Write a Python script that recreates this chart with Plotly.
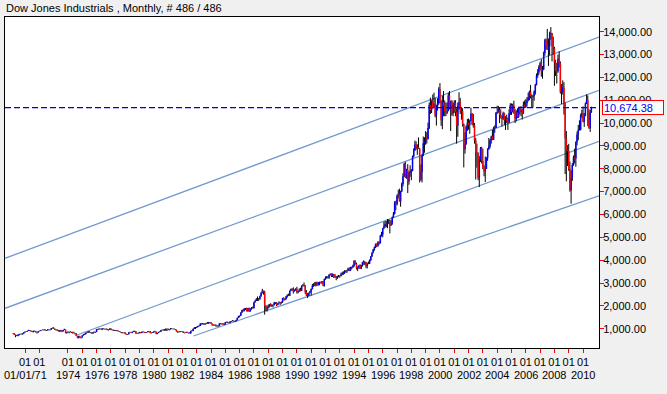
import plotly.graph_objects as go

TITLE = "Dow Jones Industrials , Monthly, # 486 / 486"
FIRST_YEAR, FIRST_MONTH = 1970, 3

# Monthly OHLC, Mar 1970 .. Aug 2010 (one row per year)
opens = [
    778, 786, 736, 700, 684, 734, 765, 761, 756, 794,
    839, 869, 879, 904, 942, 908, 891, 858, 898, 887, 839, 831,
    890, 902, 928, 941, 954, 961, 929, 925, 964, 953, 956, 1018,
    1020, 999, 955, 951, 921, 901, 892, 926, 888, 947, 957, 822,
    851, 856, 861, 847, 837, 802, 802, 757, 679, 608, 666, 619,
    616, 704, 739, 768, 821, 832, 879, 832, 835, 794, 836, 861,
    852, 975, 973, 999, 997, 975, 1003, 985, 974, 990, 965, 947,
    1005, 954, 936, 919, 927, 899, 916, 890, 861, 847, 818, 830,
    831, 770, 742, 757, 837, 841, 819, 862, 877, 866, 792, 799,
    805, 839, 809, 862, 855, 822, 842, 846, 888, 879, 816, 822,
    839, 876, 863, 786, 817, 851, 868, 935, 933, 932, 924, 993,
    964, 947, 975, 1004, 998, 992, 977, 952, 881, 850, 853, 889,
    875, 871, 824, 823, 848, 820, 812, 809, 901, 896, 992, 1039,
    1047, 1076, 1113, 1130, 1226, 1200, 1222, 1199, 1216, 1233, 1225, 1276,
    1259, 1221, 1155, 1165, 1171, 1105, 1132, 1115, 1224, 1207, 1207, 1189,
    1212, 1287, 1284, 1267, 1258, 1315, 1335, 1347, 1334, 1329, 1374, 1472,
    1547, 1571, 1709, 1819, 1784, 1877, 1893, 1775, 1898, 1768, 1878, 1914,
    1896, 2158, 2224, 2305, 2286, 2292, 2419, 2572, 2663, 2596, 1994, 1834,
    1939, 1958, 2072, 1988, 2032, 2031, 2142, 2129, 2032, 2113, 2149, 2115,
    2169, 2342, 2258, 2294, 2419, 2480, 2440, 2661, 2737, 2693, 2645, 2706,
    2753, 2591, 2627, 2707, 2657, 2877, 2881, 2905, 2614, 2452, 2442, 2560,
    2634, 2736, 2882, 2914, 2888, 3028, 2907, 3025, 3044, 3017, 3069, 2895,
    3169, 3223, 3268, 3235, 3359, 3397, 3319, 3394, 3257, 3272, 3226, 3305,
    3301, 3310, 3371, 3435, 3428, 3527, 3516, 3539, 3651, 3555, 3681, 3684,
    3754, 3978, 3832, 3636, 3682, 3758, 3625, 3765, 3913, 3843, 3908, 3739,
    3834, 3844, 4011, 4158, 4321, 4465, 4556, 4708, 4611, 4789, 4755, 5074,
    5117, 5395, 5486, 5587, 5569, 5643, 5655, 5529, 5616, 5882, 6029, 6522,
    6448, 6813, 6878, 6583, 7009, 7331, 7673, 8223, 7622, 7945, 7442, 7823,
    7908, 7907, 8546, 8800, 9063, 8900, 8952, 8883, 7539, 7843, 8592, 9117,
    9181, 9359, 9307, 9786, 10789, 10560, 10971, 10655, 10829, 10337, 10730, 10878,
    11497, 10941, 10128, 10922, 10734, 10522, 10448, 10522, 11215, 10651, 10971, 10414,
    10788, 10887, 10495, 9879, 10735, 10912, 10502, 10523, 9950, 8848, 9075, 9852,
    10022, 9920, 10106, 10404, 9946, 9925, 9243, 8737, 8664, 7592, 8397, 8896,
    8342, 8054, 7891, 7992, 8480, 8850, 8985, 9234, 9416, 9275, 9801, 9782,
    10454, 10488, 10584, 10358, 10226, 10188, 10435, 10140, 10174, 10080, 10027, 10428,
    10783, 10490, 10766, 10504, 10193, 10467, 10275, 10641, 10482, 10569, 10440, 10806,
    10718, 10865, 10993, 11109, 11367, 11168, 11150, 11186, 11381, 11679, 12081, 12222,
    12463, 12622, 12269, 12354, 13063, 13628, 13409, 13212, 13358, 13896, 13930, 13372,
    13265, 12650, 12266, 12263, 12820, 12638, 11350, 11378, 11544, 10851, 9325, 8829,
    8776, 8001, 7063, 7609, 8168, 8500, 8447, 9172, 9496, 9712, 9713, 10345,
    10428, 10067, 10325, 10857, 11009, 10137, 9774, 10466,
]

highs = [
    800, 797, 743, 728, 743, 776, 785, 786, 800, 848,
    877, 892, 912, 951, 945, 920, 906, 915, 920, 906, 850, 895,
    917, 933, 950, 968, 976, 965, 942, 980, 970, 965, 1026, 1052,
    1067, 1005, 983, 965, 947, 935, 945, 930, 960, 997, 963, 860,
    892, 870, 895, 865, 865, 865, 815, 800, 690, 690, 690, 630,
    712, 765, 790, 825, 858, 885, 890, 845, 845, 855, 870, 865,
    985, 995, 1011, 1012, 1010, 1015, 1015, 995, 1020, 992, 970, 1010,
    1015, 960, 970, 945, 945, 925, 925, 895, 875, 855, 850, 835,
    838, 785, 768, 850, 870, 850, 870, 910, 910, 901, 820, 830,
    860, 845, 870, 880, 865, 853, 855, 895, 900, 900, 835, 855,
    895, 910, 870, 825, 863, 890, 945, 965, 975, 980, 1010, 1000,
    1010, 980, 1025, 1030, 1005, 1015, 985, 960, 885, 880, 895, 900,
    885, 875, 835, 865, 870, 830, 845, 910, 945, 1010, 1070, 1075,
    1095, 1125, 1150, 1230, 1240, 1250, 1245, 1225, 1260, 1290, 1295, 1290,
    1295, 1230, 1185, 1185, 1185, 1145, 1140, 1245, 1245, 1235, 1250, 1225,
    1295, 1310, 1310, 1290, 1325, 1340, 1375, 1355, 1345, 1385, 1480, 1560,
    1575, 1720, 1830, 1870, 1895, 1905, 1920, 1910, 1925, 1890, 1950, 1965,
    2175, 2250, 2340, 2410, 2345, 2445, 2590, 2746, 2665, 2660, 2030, 2015,
    2055, 2085, 2115, 2070, 2065, 2175, 2165, 2160, 2130, 2200, 2160, 2190,
    2350, 2375, 2330, 2425, 2500, 2535, 2670, 2755, 2775, 2810, 2720, 2770,
    2835, 2665, 2765, 2790, 2900, 2950, 3025, 2915, 2690, 2560, 2580, 2660,
    2760, 2960, 2990, 3040, 3050, 3060, 3040, 3060, 3060, 3090, 3080, 3190,
    3290, 3300, 3300, 3380, 3420, 3425, 3420, 3400, 3390, 3300, 3320, 3355,
    3340, 3450, 3490, 3510, 3560, 3560, 3580, 3670, 3680, 3710, 3720, 3800,
    3990, 3990, 3890, 3730, 3790, 3820, 3790, 3930, 3990, 3960, 3920, 3890,
    3940, 4030, 4180, 4340, 4490, 4600, 4730, 4740, 4830, 4830, 5110, 5240,
    5410, 5680, 5720, 5710, 5800, 5780, 5770, 5750, 5910, 6110, 6580, 6600,
    6880, 7080, 7130, 7040, 7400, 7800, 8260, 8300, 8000, 8200, 7870, 8150,
    7990, 8580, 8900, 9230, 9200, 9070, 9370, 8900, 8190, 8650, 9410, 9380,
    9650, 9600, 10020, 10900, 11110, 11000, 11250, 11330, 11110, 10800, 11090, 11570,
    11750, 11000, 11200, 11400, 10990, 10900, 10900, 11330, 11400, 10980, 11000, 10900,
    11000, 11000, 10650, 10900, 11350, 11100, 10700, 10650, 9980, 9600, 9900, 10180,
    10200, 10150, 10670, 10440, 10400, 10000, 9350, 9100, 8720, 8550, 8950, 8960,
    8880, 8150, 8540, 8500, 8900, 9350, 9300, 9450, 9700, 9840, 9900, 10480,
    10760, 10750, 10700, 10600, 10330, 10500, 10460, 10300, 10370, 10240, 10600, 10870,
    10860, 10850, 10980, 10620, 10560, 10650, 10720, 10720, 10740, 10610, 10940, 10990,
    11050, 11140, 11330, 11420, 11670, 11260, 11230, 11430, 11720, 12170, 12360, 12530,
    12690, 12800, 12500, 13130, 13690, 13700, 14120, 13700, 14000, 14200, 13950, 13780,
    13340, 12770, 12630, 13000, 13140, 12700, 11710, 11870, 11790, 10900, 9650, 9030,
    9090, 8320, 7930, 8250, 8580, 8880, 9200, 9630, 9920, 10120, 10410, 10580,
    10730, 10440, 10900, 11260, 11210, 10600, 10580, 10720,
]

lows = [
    763, 724, 627, 676, 667, 700, 740, 747, 740, 786,
    830, 862, 872, 900, 900, 870, 850, 836, 877, 835, 790, 830,
    884, 895, 922, 935, 920, 922, 905, 920, 934, 922, 950, 1000,
    990, 942, 920, 910, 875, 860, 870, 850, 880, 940, 800, 783,
    820, 795, 840, 815, 790, 795, 750, 674, 585, 573, 605, 570,
    610, 700, 735, 750, 815, 820, 825, 805, 785, 785, 830, 820,
    850, 948, 958, 965, 960, 950, 975, 955, 970, 930, 920, 945,
    950, 925, 910, 905, 895, 890, 885, 855, 835, 802, 800, 795,
    760, 738, 735, 750, 830, 810, 805, 860, 855, 780, 780, 780,
    800, 800, 806, 845, 818, 820, 820, 842, 860, 800, 790, 818,
    820, 855, 755, 758, 805, 845, 865, 915, 915, 910, 920, 895,
    935, 925, 965, 990, 965, 975, 935, 870, 820, 835, 845, 865,
    835, 815, 790, 820, 815, 785, 795, 770, 890, 890, 985, 985,
    1030, 1065, 1095, 1115, 1180, 1185, 1175, 1160, 1200, 1215, 1215, 1245,
    1215, 1130, 1135, 1135, 1100, 1095, 1080, 1110, 1190, 1180, 1180, 1160,
    1180, 1265, 1245, 1245, 1240, 1295, 1325, 1310, 1295, 1315, 1370, 1460,
    1500, 1565, 1690, 1745, 1760, 1820, 1745, 1740, 1740, 1745, 1830, 1880,
    1890, 2140, 2210, 2215, 2215, 2275, 2400, 2545, 2490, 1616, 1780, 1750,
    1880, 1930, 1975, 1955, 1935, 2025, 2080, 1990, 2020, 2100, 2040, 2100,
    2130, 2240, 2235, 2285, 2365, 2425, 2430, 2640, 2655, 2540, 2620, 2660,
    2540, 2545, 2620, 2630, 2650, 2840, 2850, 2520, 2430, 2340, 2420, 2560,
    2450, 2720, 2830, 2860, 2850, 2880, 2890, 2900, 2980, 2960, 2860, 2840,
    3140, 3190, 3200, 3180, 3330, 3260, 3260, 3220, 3240, 3120, 3180, 3250,
    3230, 3290, 3340, 3360, 3400, 3460, 3440, 3520, 3520, 3530, 3600, 3650,
    3710, 3810, 3590, 3520, 3630, 3610, 3620, 3720, 3800, 3780, 3650, 3640,
    3820, 3840, 3960, 4140, 4300, 4410, 4530, 4570, 4600, 4680, 4720, 5030,
    5000, 5360, 5420, 5440, 5400, 5580, 5170, 5500, 5550, 5860, 6000, 6180,
    6400, 6700, 6560, 6340, 6990, 7230, 7640, 7600, 7560, 6940, 7300, 7650,
    7500, 7890, 8500, 8780, 8840, 8610, 8870, 7400, 7470, 7400, 8550, 8700,
    9050, 9100, 9280, 9740, 10400, 10440, 10640, 10650, 10250, 9890, 10550, 10800,
    10860, 9880, 9730, 10300, 10300, 10300, 10400, 10520, 10600, 9650, 10330, 10300,
    10450, 10300, 9100, 9400, 10600, 10400, 10150, 9850, 8060, 8660, 9050, 9660,
    9710, 9530, 10090, 9900, 9800, 9100, 7530, 8050, 7500, 7200, 8300, 8230,
    7980, 7670, 7420, 7990, 8350, 8830, 8900, 9100, 9250, 9260, 9580, 9780,
    10400, 10450, 10000, 10200, 9850, 10140, 9920, 9700, 10000, 9700, 10000, 10350,
    10360, 10460, 10400, 10000, 10080, 10220, 10230, 10380, 10300, 10160, 10400, 10650,
    10660, 10720, 10950, 11000, 11080, 10700, 10680, 10980, 11250, 11650, 11980, 12120,
    12330, 12030, 11940, 12330, 12950, 13220, 13200, 12500, 12960, 13650, 12700, 13000,
    11630, 12060, 11730, 12200, 12430, 11290, 10830, 11250, 10370, 7770, 7450, 8120,
    7910, 7000, 6470, 7470, 8130, 8230, 8090, 9030, 9250, 9670, 9680, 10230,
    10030, 9830, 10300, 10840, 9870, 9750, 9610, 10450,
]

closes = [
    786, 736, 700, 684, 734, 765, 761, 756, 794, 839,
    869, 879, 904, 942, 908, 891, 858, 898, 887, 839, 831, 890,
    902, 928, 941, 954, 961, 929, 925, 964, 953, 956, 1018, 1020,
    999, 955, 951, 921, 901, 892, 926, 888, 947, 957, 822, 851,
    856, 861, 847, 837, 802, 802, 757, 679, 608, 666, 619, 616,
    704, 739, 768, 821, 832, 879, 832, 835, 794, 836, 861, 852,
    975, 973, 999, 997, 975, 1003, 985, 974, 990, 965, 947, 1005,
    954, 936, 919, 927, 899, 916, 890, 861, 847, 818, 830, 831,
    770, 742, 757, 837, 841, 819, 862, 877, 866, 792, 799, 805,
    839, 809, 862, 855, 822, 842, 846, 888, 879, 816, 822, 839,
    876, 863, 786, 817, 851, 868, 935, 933, 932, 924, 993, 964,
    947, 975, 1004, 998, 992, 977, 952, 881, 850, 853, 889, 875,
    871, 824, 823, 848, 820, 812, 809, 901, 896, 992, 1039, 1047,
    1076, 1113, 1130, 1226, 1200, 1222, 1199, 1216, 1233, 1225, 1276, 1259,
    1221, 1155, 1165, 1171, 1105, 1132, 1115, 1224, 1207, 1207, 1189, 1212,
    1287, 1284, 1267, 1258, 1315, 1335, 1347, 1334, 1329, 1374, 1472, 1547,
    1571, 1709, 1819, 1784, 1877, 1893, 1775, 1898, 1768, 1878, 1914, 1896,
    2158, 2224, 2305, 2286, 2292, 2419, 2572, 2663, 2596, 1994, 1834, 1939,
    1958, 2072, 1988, 2032, 2031, 2142, 2129, 2032, 2113, 2149, 2115, 2169,
    2342, 2258, 2294, 2419, 2480, 2440, 2661, 2737, 2693, 2645, 2706, 2753,
    2591, 2627, 2707, 2657, 2877, 2881, 2905, 2614, 2452, 2442, 2560, 2634,
    2736, 2882, 2914, 2888, 3028, 2907, 3025, 3044, 3017, 3069, 2895, 3169,
    3223, 3268, 3235, 3359, 3397, 3319, 3394, 3257, 3272, 3226, 3305, 3301,
    3310, 3371, 3435, 3428, 3527, 3516, 3539, 3651, 3555, 3681, 3684, 3754,
    3978, 3832, 3636, 3682, 3758, 3625, 3765, 3913, 3843, 3908, 3739, 3834,
    3844, 4011, 4158, 4321, 4465, 4556, 4708, 4611, 4789, 4755, 5074, 5117,
    5395, 5486, 5587, 5569, 5643, 5655, 5529, 5616, 5882, 6029, 6522, 6448,
    6813, 6878, 6583, 7009, 7331, 7673, 8223, 7622, 7945, 7442, 7823, 7908,
    7907, 8546, 8800, 9063, 8900, 8952, 8883, 7539, 7843, 8592, 9117, 9181,
    9359, 9307, 9786, 10789, 10560, 10971, 10655, 10829, 10337, 10730, 10878, 11497,
    10941, 10128, 10922, 10734, 10522, 10448, 10522, 11215, 10651, 10971, 10414, 10788,
    10887, 10495, 9879, 10735, 10912, 10502, 10523, 9950, 8848, 9075, 9852, 10022,
    9920, 10106, 10404, 9946, 9925, 9243, 8737, 8664, 7592, 8397, 8896, 8342,
    8054, 7891, 7992, 8480, 8850, 8985, 9234, 9416, 9275, 9801, 9782, 10454,
    10488, 10584, 10358, 10226, 10188, 10435, 10140, 10174, 10080, 10027, 10428, 10783,
    10490, 10766, 10504, 10193, 10467, 10275, 10641, 10482, 10569, 10440, 10806, 10718,
    10865, 10993, 11109, 11367, 11168, 11150, 11186, 11381, 11679, 12081, 12222, 12463,
    12622, 12269, 12354, 13063, 13628, 13409, 13212, 13358, 13896, 13930, 13372, 13265,
    12650, 12266, 12263, 12820, 12638, 11350, 11378, 11544, 10851, 9325, 8829, 8776,
    8001, 7063, 7609, 8168, 8500, 8447, 9172, 9496, 9712, 9713, 10345, 10428,
    10067, 10325, 10857, 11009, 10137, 9774, 10466, 10674.38,
]

# Axis tick labels
tick_years = [1971, 1972] + list(range(1974, 2011))
year_label_years = [1971] + list(range(1974, 2011, 2))
year_label_text = ["01/01/71"] + [str(y) for y in range(1974, 2011, 2)]
price_ticks = [1000, 2000, 3000, 4000, 5000, 6000, 7000, 8000, 9000,
               10000, 11000, 12000, 13000, 14000]

# Trend channel lines (bar index, price) endpoints
trend_x0 = [-6.8, -6.8, 53.6, 151.2]
trend_y0 = [4081, 1893, 724, 680]
trend_x1 = [491.4, 491.4, 491.4, 491.4]
trend_y1 = [13768, 11435, 9198, 6817]

X_RANGE = [-6.8, 491.4]
Y_RANGE = [155, 14643]

FONT = "Liberation Sans, Arial, sans-serif"


def month_index(year, month):
    return (year - FIRST_YEAR) * 12 + (month - FIRST_MONTH)


n = len(closes)
wick_x, wick_y = [], []
up_x, up_y, dn_x, dn_y = [], [], [], []
for i in range(n):
    wick_x += [i, i, None]
    wick_y += [lows[i], highs[i], None]
    if closes[i] >= opens[i]:
        up_x += [i, i, None]
        up_y += [opens[i], closes[i], None]
    else:
        dn_x += [i, i, None]
        dn_y += [opens[i], closes[i], None]

fig = go.Figure()

for x0, y0, x1, y1 in zip(trend_x0, trend_y0, trend_x1, trend_y1):
    fig.add_trace(go.Scatter(x=[x0, x1], y=[y0, y1], mode="lines",
                             line=dict(color="#7499CF", width=1.3),
                             hoverinfo="skip", showlegend=False))

fig.add_trace(go.Scatter(x=wick_x, y=wick_y, mode="lines",
                         line=dict(color="#000000", width=1),
                         hoverinfo="skip", showlegend=False))
fig.add_trace(go.Scatter(x=up_x, y=up_y, mode="lines",
                         line=dict(color="#0000FF", width=1.5),
                         hoverinfo="skip", showlegend=False))
fig.add_trace(go.Scatter(x=dn_x, y=dn_y, mode="lines",
                         line=dict(color="#FF0000", width=1.5),
                         hoverinfo="skip", showlegend=False))

last_close = closes[-1]
fig.add_trace(go.Scatter(x=X_RANGE, y=[last_close, last_close], mode="lines",
                         line=dict(color="#0000DD", width=1.2, dash="6px,3px"),
                         hoverinfo="skip", showlegend=False))

annotations = [
    dict(text=TITLE, xref="paper", yref="paper", x=0, y=1.0, xshift=-1, yshift=9,
         xanchor="left", yanchor="middle", showarrow=False,
         font=dict(family=FONT, size=11, color="#000000")),
    dict(text=f"{last_close:,.2f}", xref="paper", yref="y", x=1, xshift=3,
         y=last_close, xanchor="left", yanchor="middle", showarrow=False,
         align="left", width=58, height=11, bgcolor="#FFFFFF",
         bordercolor="#FF0000", borderwidth=1, borderpad=1,
         font=dict(family=FONT, size=11, color="#0000FF")),
]
for yr, txt in zip(year_label_years, year_label_text):
    annotations.append(dict(text=txt, xref="x", yref="paper",
                            x=month_index(yr, 1), y=0, yshift=-27,
                            xanchor="center", yanchor="middle", showarrow=False,
                            font=dict(family=FONT, size=11, color="#000000")))

fig.update_layout(
    width=667, height=394,
    margin=dict(l=5, r=68, t=17, b=46),
    paper_bgcolor="#F0F0F0", plot_bgcolor="#FFFFFF",
    showlegend=False,
    annotations=annotations,
    xaxis=dict(range=X_RANGE, showgrid=False, zeroline=False,
               showline=True, mirror=True, linecolor="#000000", linewidth=1,
               tickmode="array", tickvals=[month_index(y, 1) for y in tick_years],
               ticktext=["01"] * len(tick_years),
               ticks="outside", ticklen=4, tickcolor="#FF0000", tickwidth=1,
               tickfont=dict(family=FONT, size=11, color="#000000")),
    yaxis=dict(range=Y_RANGE, side="right", showgrid=False, zeroline=False,
               showline=True, mirror=True, linecolor="#000000", linewidth=1,
               tickmode="array", tickvals=price_ticks,
               ticktext=[f"{v:,.2f}" for v in price_ticks],
               ticks="outside", ticklen=4, tickcolor="#FF0000", tickwidth=1,
               ticklabelstandoff=-3,
               tickfont=dict(family=FONT, size=11, color="#000000")),
)

fig.write_html("out.html", config={"displayModeBar": False},
               post_script="document.body.style.margin='0';")
